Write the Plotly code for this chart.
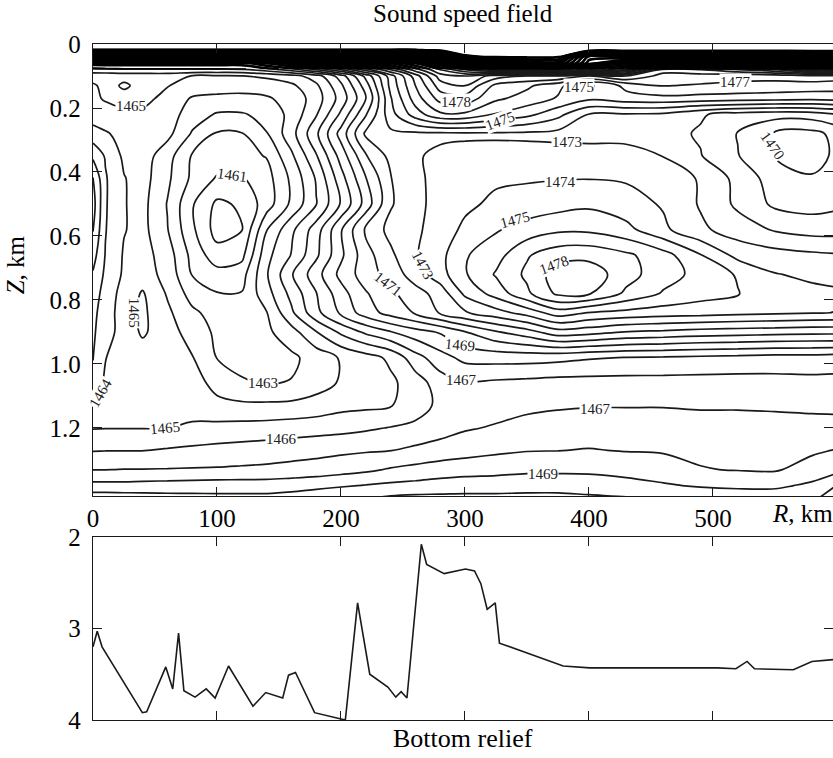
import plotly.graph_objects as go

# Sound speed section: grid of range (km) x depth (km), values in m/s
range_km = [0, 10, 25, 40, 60, 80, 100, 120, 140, 160, 180, 200, 220, 240, 260,
            280, 300, 325, 350, 375, 400, 430, 460, 490, 520, 550, 580, 600]
depth_km = [0, 0.02, 0.04, 0.06, 0.08, 0.1, 0.13, 0.17, 0.22, 0.28, 0.35, 0.42,
            0.5, 0.58, 0.66, 0.72, 0.78, 0.84, 0.9, 0.98, 1.06, 1.13, 1.2, 1.27,
            1.33, 1.38, 1.42]

sound_speed = [
    [1499.8] * 28,
    [1498.9] * 15 + [1499.1, 1499.7, 1499.7, 1499.7, 1499.6, 1499.5, 1499.4, 1499.3, 1499.3, 1499.3, 1499.3, 1499.3, 1499.3],
    [1488] * 10 + [1489, 1489, 1490, 1491, 1491, 1493, 1498.8, 1499.2, 1499.3, 1499.3, 1491.5, 1492, 1494, 1494, 1495, 1495, 1496, 1496],
    [1468.5] * 8 + [1470, 1471.5, 1473.5, 1476, 1478, 1480, 1482, 1485, 1492, 1494, 1496, 1496.5, 1490.5, 1488, 1487, 1488, 1489, 1490, 1491, 1492],
    [1466.7, 1466.8, 1466.9, 1466.9, 1466.9, 1466.9, 1466.9, 1466.9, 1467.5, 1468.5, 1470, 1472, 1474.5, 1477, 1479.5, 1482, 1484, 1486, 1489, 1490, 1487, 1485, 1478.5, 1479, 1480, 1481, 1484, 1485],
    [1465.3, 1465.3, 1465.4, 1465.4, 1465.4, 1464.95, 1464.9, 1464.97, 1465.2, 1465.6, 1466.5, 1468.5, 1471.3, 1474.5, 1477.5, 1480.5, 1481, 1479.5, 1479, 1479, 1478, 1479, 1477.6, 1477.5, 1477.3, 1477.3, 1477.6, 1477.5],
    [1464.9, 1465.2, 1466.3, 1465.4, 1465.05, 1464.6, 1464.4, 1464.3, 1464.4, 1464.8, 1465.8, 1467.8, 1470.5, 1474.3, 1477.0, 1479.5, 1480.0, 1477.7, 1477.2, 1476.3, 1474.8, 1476.3, 1477.05, 1476.9, 1476.8, 1476.7, 1476.6, 1476.5],
    [1464.8, 1465.1, 1465.3, 1465.3, 1464.7, 1463.9, 1463.8, 1463.8, 1463.9, 1464.3, 1465.5, 1467.4, 1469.9, 1473.9, 1476.5, 1478.4, 1478.6, 1477.2, 1476.6, 1475.9, 1475.2, 1475.6, 1475.7, 1475.6, 1475.5, 1475.4, 1475.3, 1475.4],
    [1464.5, 1464.6, 1464.8, 1464.8, 1464.5, 1463.5, 1462.9, 1462.9, 1463.3, 1464.3, 1465.9, 1468.2, 1470.9, 1473.6, 1475.5, 1476.8, 1476.8, 1475.9, 1475.3, 1474.3, 1472.95, 1472.9, 1472.8, 1472.1, 1471.6, 1471.4, 1471.5, 1471.95],
    [1463.6, 1463.9, 1464.3, 1464.5, 1464.3, 1462.9, 1461.9, 1461.95, 1462.95, 1464.6, 1466.8, 1469.4, 1472.2, 1472.8, 1472.8, 1472.8, 1472.85, 1472.85, 1472.8, 1472.7, 1472.6, 1472.5, 1472.3, 1471.9, 1470.95, 1469.9, 1469.7, 1470.3],
    [1462.2, 1463.1, 1464.2, 1464.5, 1463.4, 1461.9, 1461.6, 1461.7, 1462.05, 1463.8, 1465.9, 1468.4, 1470.9, 1472.3, 1472.9, 1473.2, 1473.3, 1473.35, 1473.4, 1473.45, 1473.5, 1473.55, 1472.97, 1472.05, 1471.05, 1469.95, 1469.6, 1470.2],
    [1460.95, 1462.9, 1463.95, 1464.4, 1463.2, 1461.8, 1460.9, 1460.9, 1461.6, 1463.2, 1465.1, 1467.6, 1469.95, 1471.95, 1472.8, 1473.3, 1473.6, 1473.85, 1473.9, 1473.95, 1473.97, 1473.9, 1473.6, 1472.9, 1471.7, 1470.5, 1470.1, 1470.4],
    [1460.6, 1462.9, 1463.95, 1464.3, 1462.95, 1461.1, 1459.8, 1460.15, 1461.5, 1463.2, 1464.95, 1467.1, 1469.4, 1471.9, 1472.7, 1473.4, 1473.8, 1474.2, 1474.4, 1474.6, 1474.8, 1474.4, 1473.9, 1472.9, 1471.8, 1470.8, 1470.6, 1470.8],
    [1460.95, 1462.95, 1463.95, 1464.3, 1463.05, 1461.2, 1459.6, 1459.95, 1462.95, 1464.75, 1466.5, 1468.9, 1471.2, 1472.3, 1472.8, 1473.5, 1474.2, 1474.9, 1475.4, 1475.8, 1475.8, 1475.3, 1474.2, 1473.2, 1472.5, 1471.9, 1471.6, 1471.6],
    [1461.6, 1463.05, 1464.1, 1464.4, 1463.5, 1461.7, 1460.4, 1460.7, 1463.7, 1465.05, 1466.8, 1468.8, 1470.6, 1471.8, 1472.9, 1473.7, 1474.9, 1475.6, 1476.9, 1477.6, 1477.7, 1477.2, 1476.4, 1475.05, 1473.7, 1473.4, 1473.2, 1473.1],
    [1462.1, 1463.2, 1464.15, 1464.5, 1463.65, 1461.95, 1461.4, 1461.6, 1463.9, 1465.9, 1467.6, 1469.3, 1470.5, 1471.4, 1472.5, 1473.6, 1474.9, 1476.1, 1477.2, 1478.5, 1478.6, 1477.4, 1476.4, 1475.7, 1474.9, 1474.05, 1473.8, 1473.7],
    [1462.5, 1463.4, 1464.4, 1465.1, 1463.9, 1462.6, 1462.05, 1462.05, 1463.6, 1465.3, 1466.95, 1468.6, 1469.9, 1470.8, 1471.6, 1472.4, 1474.2, 1475.4, 1476.8, 1478.2, 1478.1, 1476.8, 1475.9, 1475.4, 1475.05, 1474.5, 1474.25, 1474.15],
    [1462.75, 1463.5, 1464.5, 1465.2, 1464.2, 1463.2, 1462.6, 1462.6, 1462.95, 1464.8, 1466.7, 1468.2, 1469.5, 1470.4, 1471.1, 1472.1, 1472.9, 1473.6, 1474.4, 1475.5, 1474.95, 1474.7, 1474.5, 1474.4, 1474.25, 1474.15, 1474.05, 1473.98],
    [1462.85, 1463.6, 1464.4, 1465.15, 1464.4, 1463.6, 1462.8, 1462.6, 1462.8, 1463.6, 1464.95, 1466.2, 1467.2, 1467.95, 1468.6, 1469.1, 1469.95, 1470.9, 1471.6, 1472.6, 1472.4, 1471.95, 1471.8, 1471.6, 1471.5, 1471.4, 1471.3, 1471.3],
    [1462.95, 1463.97, 1464.4, 1464.5, 1464.5, 1464.05, 1462.97, 1462.7, 1462.6, 1462.8, 1463.4, 1464.1, 1464.6, 1465.2, 1466.6, 1467.6, 1468.3, 1468.4, 1468.4, 1468.3, 1468.1, 1467.97, 1467.9, 1467.8, 1467.7, 1467.6, 1467.6, 1467.5],
    [1463.4, 1464.2, 1464.4, 1464.5, 1464.6, 1464.4, 1463.7, 1463.1, 1462.95, 1463.05, 1463.6, 1464.1, 1464.5, 1464.8, 1465.5, 1466.5, 1466.9, 1466.8, 1466.7, 1466.6, 1466.6, 1466.6, 1466.6, 1466.6, 1466.6, 1466.65, 1466.7, 1466.7],
    [1464.05, 1464.4, 1464.5, 1464.6, 1464.6, 1464.5, 1464.25, 1464.2, 1464.2, 1464.25, 1464.4, 1464.7, 1464.8, 1464.95, 1465.4, 1466.3, 1466.5, 1466.6, 1466.8, 1466.9, 1466.95, 1466.95, 1466.95, 1466.9, 1466.9, 1466.85, 1466.8, 1466.8],
    [1464.95, 1464.97, 1464.97, 1464.97, 1464.98, 1465.2, 1465.3, 1465.35, 1465.4, 1465.5, 1465.6, 1465.7, 1465.85, 1466.05, 1466.3, 1466.6, 1466.9, 1467.1, 1467.3, 1467.4, 1467.5, 1467.5, 1467.5, 1467.4, 1467.4, 1467.4, 1467.35, 1467.3],
    [1465.95, 1465.97, 1465.97, 1465.98, 1466.1, 1466.2, 1466.3, 1466.4, 1466.5, 1466.6, 1466.7, 1466.8, 1466.9, 1466.98, 1467.2, 1467.4, 1467.6, 1467.8, 1467.95, 1467.98, 1468.05, 1467.95, 1467.9, 1467.8, 1467.7, 1467.7, 1467.85, 1468.05],
    [1466.97, 1466.98, 1467.02, 1467.03, 1467.05, 1467.08, 1467.1, 1467.15, 1467.2, 1467.3, 1467.4, 1467.6, 1467.8, 1468.1, 1468.3, 1468.5, 1468.6, 1468.7, 1468.8, 1468.8, 1468.8, 1468.7, 1468.5, 1468.05, 1467.95, 1467.9, 1468.4, 1468.7],
    [1468.3, 1468.3, 1468.3, 1468.35, 1468.4, 1468.45, 1468.5, 1468.5, 1468.5, 1468.6, 1468.75, 1468.9, 1469.05, 1469.2, 1469.3, 1469.4, 1469.5, 1469.5, 1469.6, 1469.6, 1469.5, 1469.3, 1469.1, 1468.9, 1468.8, 1468.8, 1469.2, 1470.05],
    [1469.6, 1469.6, 1469.55, 1469.5, 1469.4, 1469.35, 1469.3, 1469.3, 1469.3, 1469.4, 1469.6, 1469.8, 1469.95, 1470.2, 1470.3, 1470.3, 1470.3, 1470.3, 1470.3, 1470.3, 1470.2, 1470.1, 1469.9, 1469.7, 1469.6, 1469.6, 1469.9, 1470.3],
]

# Near-surface thermocline rows (depth <= 0.08 km) are drawn a second time with heavier lines
THERMOCLINE_ROWS = 5

# Contour levels that carry a printed value, with where the value is printed
label_levels = [1465, 1461, 1478, 1475, 1477, 1475, 1473, 1470, 1474, 1475, 1478,
                1473, 1471, 1469, 1467, 1463, 1465, 1464, 1465, 1466, 1467, 1469]
label_range = [31, 112, 293, 392, 518, 328, 382, 548, 377, 340, 372,
               266, 238, 296, 297, 137, 33, 6, 58, 152, 405, 363]
label_depth = [0.195, 0.41, 0.18, 0.135, 0.12, 0.24, 0.305, 0.32, 0.43, 0.55, 0.69,
               0.69, 0.75, 0.94, 1.05, 1.06, 0.84, 1.09, 1.2, 1.235, 1.14, 1.345]
label_angle = [0, 8, 0, 0, 0, -20, 0, 55, 0, -15, -20,
               62, 38, 5, 0, 0, 90, -60, -5, 0, 0, 0]

# Bottom relief profile along the section
relief_range_km = [0, 3.4, 7.3, 39.8, 43.3, 58.7, 64.3, 69, 73.3, 82.3, 91.3, 98.5,
                   109.3, 129, 139.3, 153, 157.7, 163.3, 178.7, 203.5, 213.4, 223.2,
                   237.8, 244.2, 248.5, 253.2, 264.8, 269.1, 283.2, 300.4, 307.7,
                   312.8, 317.9, 324.4, 327.8, 379.2, 400.6, 503.5, 518.5, 527.5,
                   533.5, 564.8, 579.8, 597]
relief_depth_km = [3.2, 3.03, 3.2, 3.92, 3.91, 3.42, 3.66, 3.05, 3.68, 3.75, 3.66, 3.76,
                   3.41, 3.85, 3.7, 3.76, 3.51, 3.48, 3.92, 4.0, 2.72, 3.5,
                   3.64, 3.75, 3.69, 3.76, 2.08, 2.3, 2.4, 2.35, 2.37,
                   2.51, 2.79, 2.72, 3.16, 3.41, 3.43, 3.43, 3.44, 3.36,
                   3.44, 3.45, 3.36, 3.34]

SERIF = "Liberation Serif"
INK = "#1a1a1a"
X_MAX = 596.8
DEPTH_RANGE = [1.4125, 0]
RELIEF_RANGE = [4, 2]

fig = go.Figure()

fig.add_trace(go.Contour(
    x=range_km, y=depth_km, z=sound_speed,
    autocontour=False,
    contours=dict(start=1460, end=1499, size=1, coloring="lines", showlabels=False),
    line=dict(width=1.7, smoothing=1.0),
    colorscale=[[0, INK], [1, INK]],
    showscale=False,
    hoverinfo="skip",
    xaxis="x", yaxis="y",
))

fig.add_trace(go.Contour(
    x=range_km, y=depth_km[:THERMOCLINE_ROWS], z=sound_speed[:THERMOCLINE_ROWS],
    autocontour=False,
    contours=dict(start=1466, end=1499, size=1, coloring="lines", showlabels=False),
    line=dict(width=2.6, smoothing=1.0),
    colorscale=[[0, "black"], [1, "black"]],
    showscale=False,
    hoverinfo="skip",
    xaxis="x", yaxis="y",
))

fig.add_trace(go.Scatter(
    x=relief_range_km, y=relief_depth_km, mode="lines",
    line=dict(color=INK, width=1.6),
    hoverinfo="skip", showlegend=False,
    xaxis="x2", yaxis="y2",
))

# empty traces that carry the right-hand tick axes (ticks only, no border line)
fig.add_trace(go.Scatter(x=[None], y=[None], mode="lines", showlegend=False,
                         hoverinfo="skip", xaxis="x", yaxis="y3"))
fig.add_trace(go.Scatter(x=[None], y=[None], mode="lines", showlegend=False,
                         hoverinfo="skip", xaxis="x2", yaxis="y4"))

axis_common = dict(
    showline=True, linecolor=INK, linewidth=1.3,
    ticks="inside", ticklen=9, tickwidth=1.3, tickcolor=INK,
    showgrid=False, zeroline=False,
    tickfont=dict(family=SERIF, size=25, color="black"),
)

range_ticks = [0, 100, 200, 300, 400, 500]
depth_ticks = [0, 0.2, 0.4, 0.6, 0.8, 1.0, 1.2]

fig.update_layout(
    width=833, height=758,
    margin=dict(l=93, r=0, t=44, b=38),
    paper_bgcolor="white", plot_bgcolor="white",
    showlegend=False,
    xaxis=dict(axis_common, domain=[0, 1], range=[0, X_MAX], anchor="y", mirror="ticks",
               tickvals=range_ticks, ticktext=[str(v) for v in range_ticks]),
    yaxis=dict(axis_common, domain=[0.3314, 1], range=DEPTH_RANGE, anchor="x",
               tickvals=depth_ticks,
               ticktext=["0"] + ["%.1f" % v for v in depth_ticks[1:]],
               ticklabelstandoff=6),
    yaxis3=dict(overlaying="y", side="right", anchor="x", range=DEPTH_RANGE,
                showline=False, ticks="inside", ticklen=9, tickwidth=1.3,
                tickcolor=INK, tickvals=depth_ticks, showticklabels=False,
                showgrid=False, zeroline=False),
    xaxis2=dict(axis_common, domain=[0, 1], range=[0, X_MAX], anchor="y2", mirror="ticks",
                tickvals=range_ticks, showticklabels=False),
    yaxis2=dict(axis_common, domain=[0, 0.2707], range=RELIEF_RANGE, anchor="x2",
                tickvals=[2, 3, 4], ticktext=["2", "3", "4"], ticklabelstandoff=6),
    yaxis4=dict(overlaying="y2", side="right", anchor="x2", range=RELIEF_RANGE,
                showline=False, ticks="inside", ticklen=9, tickwidth=1.3,
                tickcolor=INK, tickvals=[3], showticklabels=False,
                showgrid=False, zeroline=False),
)

annotations = []
for lev, r, z, ang in zip(label_levels, label_range, label_depth, label_angle):
    annotations.append(dict(
        x=r, y=z, xref="x", yref="y", text=str(lev), showarrow=False,
        textangle=ang, bgcolor="white", borderpad=0,
        font=dict(family=SERIF, size=15, color="#222"),
    ))

annotations += [
    dict(x=0.5, y=1.045, xref="paper", yref="paper", text="Sound speed field",
         showarrow=False, xanchor="center", yanchor="middle",
         font=dict(family=SERIF, size=25, color="black")),
    dict(x=0.5, y=-0.027, xref="paper", yref="paper", text="Bottom relief",
         showarrow=False, xanchor="center", yanchor="middle",
         font=dict(family=SERIF, size=26, color="black")),
    dict(x=0.915, y=0.306, xref="paper", yref="paper", text="<i>R</i>, km",
         showarrow=False, xanchor="left", yanchor="middle",
         font=dict(family=SERIF, size=25, color="black")),
    dict(x=-0.105, y=0.673, xref="paper", yref="paper", text="<i>Z</i>, km",
         showarrow=False, xanchor="center", yanchor="middle", textangle=-90,
         font=dict(family=SERIF, size=25, color="black")),
]
fig.update_layout(annotations=annotations)

fig.write_html("out.html")
